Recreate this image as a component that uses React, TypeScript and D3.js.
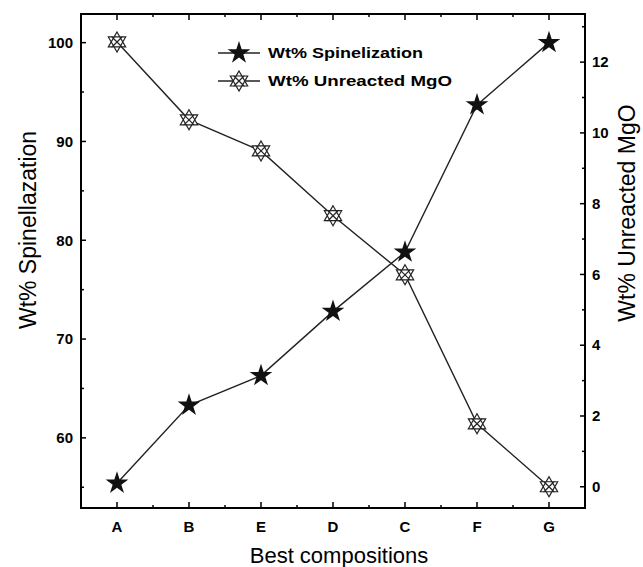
import React, { useEffect, useRef } from 'react';
import * as d3 from 'd3';

const compositions = ['A', 'B', 'E', 'D', 'C', 'F', 'G'];
const spinelization = [55.4, 63.3, 66.3, 72.8, 78.8, 93.7, 100];
const unreactedMgO = [12.57, 10.37, 9.49, 7.66, 5.99, 1.78, 0];
const leftTicks = [60, 70, 80, 90, 100];
const rightTicks = [0, 2, 4, 6, 8, 10, 12];
const legendLabels = ['Wt% Spinelization', 'Wt% Unreacted MgO'];

const FONT = 'Arial, Liberation Sans, sans-serif';

const App: React.FC = () => {
  const chartRef = useRef<SVGSVGElement | null>(null);

  useEffect(() => {
    if (!chartRef.current) return;
    const svg = d3.select(chartRef.current);
    svg.selectAll('*').remove();

    // plot frame in page coords
    const left = 81, right = 585, top = 14, bottom = 508;

    const x = d3.scalePoint<string>().domain(compositions).range([left, right]).padding(0.5);
    const yL = d3.scaleLinear().domain([52.9, 102.9]).range([bottom, top]);
    const yR = d3.scaleLinear().domain([-0.6, 13.36]).range([bottom, top]);

    const g = svg.append('g');

    // frame
    g.append('rect')
      .attr('x', left).attr('y', top)
      .attr('width', right - left).attr('height', bottom - top)
      .attr('fill', 'none').attr('stroke', '#000').attr('stroke-width', 2);

    // inward ticks, left axis (major 10, minor 5)
    const leftAll = d3.range(55, 101, 5);
    g.selectAll('.lt').data(leftAll).enter().append('line')
      .attr('x1', left).attr('x2', (d) => left + (d % 10 === 0 ? 5 : 3))
      .attr('y1', (d) => yL(d)).attr('y2', (d) => yL(d))
      .attr('stroke', '#000').attr('stroke-width', 1.5);
    g.selectAll('.ltl').data(leftTicks).enter().append('text')
      .attr('x', left - 8).attr('y', (d) => yL(d)).attr('dy', '0.35em')
      .attr('text-anchor', 'end')
      .style('font-family', FONT)
      .style('font-weight', 'bold').style('font-size', '15px')
      .text((d) => d);

    // right axis ticks (major 2, minor 1)
    const rightAll = d3.range(0, 14, 1);
    g.selectAll('.rt').data(rightAll).enter().append('line')
      .attr('x1', right).attr('x2', (d) => right - (d % 2 === 0 ? 5 : 3))
      .attr('y1', (d) => yR(d)).attr('y2', (d) => yR(d))
      .attr('stroke', '#000').attr('stroke-width', 1.5);
    g.selectAll('.rtl').data(rightTicks).enter().append('text')
      .attr('x', right + 7).attr('y', (d) => yR(d)).attr('dy', '0.35em')
      .attr('text-anchor', 'start')
      .style('font-family', FONT)
      .style('font-weight', 'bold').style('font-size', '15px')
      .text((d) => d);

    // bottom / top ticks
    const step = x.step();
    const minorX = compositions.slice(0, -1).map((c) => (x(c) as number) + step / 2);
    [bottom, top].forEach((yy) => {
      const dir = yy === bottom ? -1 : 1;
      g.selectAll(null).data(compositions).enter().append('line')
        .attr('x1', (d) => x(d) as number).attr('x2', (d) => x(d) as number)
        .attr('y1', yy).attr('y2', yy + dir * 6)
        .attr('stroke', '#000').attr('stroke-width', 1.5);
      g.selectAll(null).data(minorX).enter().append('line')
        .attr('x1', (d) => d).attr('x2', (d) => d)
        .attr('y1', yy).attr('y2', yy + dir * 3)
        .attr('stroke', '#000').attr('stroke-width', 1.5);
    });
    g.selectAll('.xtl').data(compositions).enter().append('text')
      .attr('x', (d) => x(d) as number).attr('y', 532)
      .attr('text-anchor', 'middle')
      .style('font-family', FONT)
      .style('font-weight', 'bold').style('font-size', '15px')
      .text((d) => d);

    // axis titles
    g.append('text')
      .attr('x', 339).attr('y', 563).attr('text-anchor', 'middle')
      .style('font-family', FONT).style('font-size', '22px')
      .text('Best compositions');
    g.append('text')
      .attr('transform', 'translate(36,230) rotate(-90)').attr('text-anchor', 'middle')
      .style('font-family', FONT).style('font-size', '23px')
      .text('Wt% Spinellazation');
    g.append('text')
      .attr('transform', 'translate(635,213) rotate(-90)').attr('text-anchor', 'middle')
      .style('font-family', FONT).style('font-size', '23px')
      .text('Wt% Unreacted MgO');

    // markers
    const starPath = d3.symbol().type(d3.symbolStar).size(160)();
    const hexPath = (r: number) => {
      const tri = (off: number) =>
        d3.range(3).map((i) => {
          const a = off + (i * 2 * Math.PI) / 3;
          return [r * Math.cos(a), r * Math.sin(a)];
        });
      const t1 = tri(-Math.PI / 2), t2 = tri(Math.PI / 2);
      const p = (pts: number[][]) => 'M' + pts.map((q) => q.join(',')).join('L') + 'Z';
      return p(t1) + p(t2) + `M${-r * 0.55},${-r * 0.55}L${r * 0.55},${r * 0.55}M${r * 0.55},${-r * 0.55}L${-r * 0.55},${r * 0.55}`;
    };

    const lineStar = d3.line<number>()
      .x((_, i) => x(compositions[i]) as number)
      .y((d) => yL(d));
    const lineMgO = d3.line<number>()
      .x((_, i) => x(compositions[i]) as number)
      .y((d) => yR(d));

    g.append('path').datum(unreactedMgO).attr('d', lineMgO)
      .attr('fill', 'none').attr('stroke', '#222').attr('stroke-width', 1.4);
    g.append('path').datum(spinelization).attr('d', lineStar)
      .attr('fill', 'none').attr('stroke', '#222').attr('stroke-width', 1.4);

    g.selectAll('.mg').data(unreactedMgO).enter().append('path')
      .attr('transform', (d, i) => `translate(${x(compositions[i])},${yR(d)})`)
      .attr('d', hexPath(10))
      .attr('fill', '#fff').attr('stroke', '#222').attr('stroke-width', 1.2);
    g.selectAll('.st').data(spinelization).enter().append('path')
      .attr('transform', (d, i) => `translate(${x(compositions[i])},${yL(d)})`)
      .attr('d', starPath)
      .attr('fill', '#111');

    // legend
    const legend = g.append('g').attr('transform', 'translate(218,53)');
    legendLabels.forEach((lab, i) => {
      const row = legend.append('g').attr('transform', `translate(0,${i * 28})`);
      row.append('line').attr('x1', 0).attr('x2', 42).attr('y1', 0).attr('y2', 0)
        .attr('stroke', '#222').attr('stroke-width', 1.4);
      row.append('path').attr('transform', 'translate(21,0)')
        .attr('d', i === 0 ? starPath : hexPath(10))
        .attr('fill', i === 0 ? '#111' : '#fff')
        .attr('stroke', i === 0 ? 'none' : '#222').attr('stroke-width', 1.2);
      row.append('text').attr('x', 50).attr('y', 0).attr('dy', '0.35em')
        .attr('textLength', i === 0 ? 155 : 184).attr('lengthAdjust', 'spacingAndGlyphs')
        .style('font-family', FONT)
        .style('font-weight', 'bold').style('font-size', '14px')
        .text(lab);
    });
  }, []);

  return <svg ref={chartRef} width={643} height={567} style={{ position: 'absolute', left: 0, top: 0 }}></svg>;
};

export default App;
